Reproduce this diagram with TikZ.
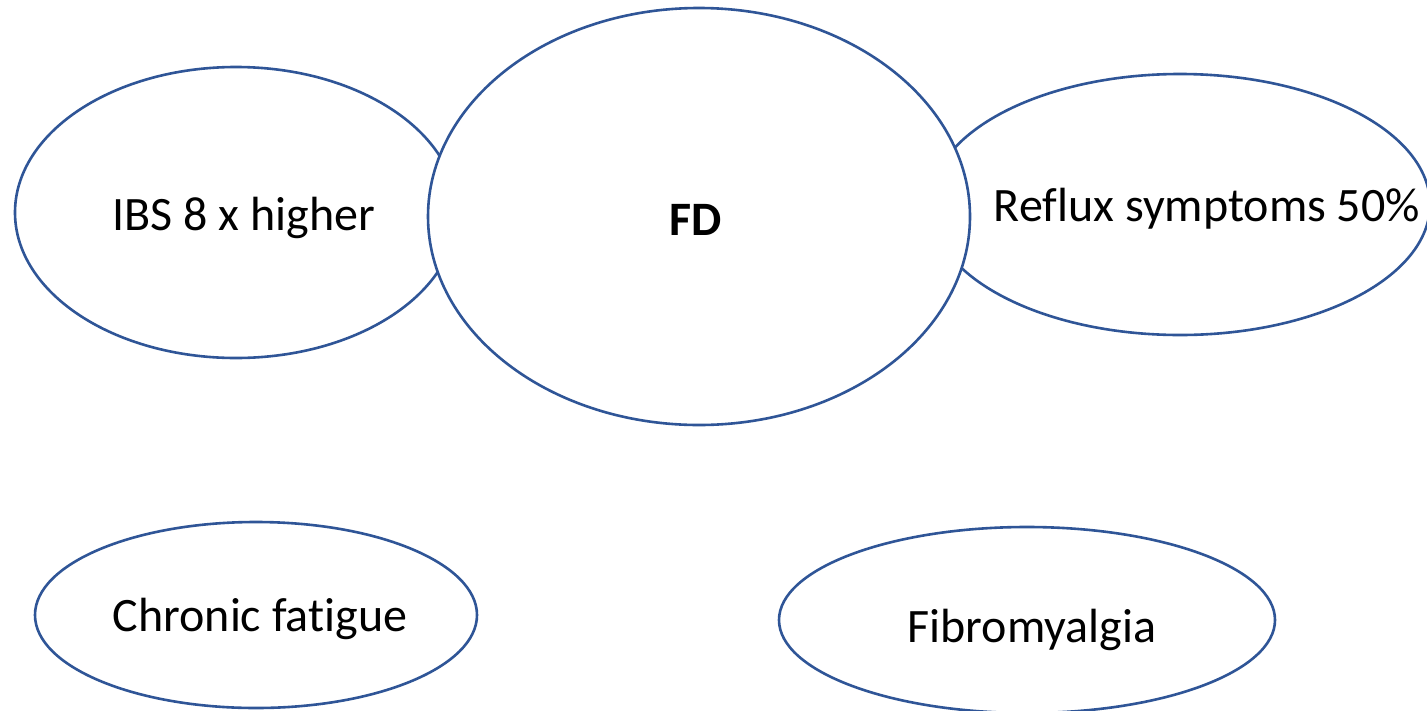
\documentclass[tikz,border=0pt]{standalone}
\usepackage{fontspec}
\setmainfont{Carlito}[Ligatures={NoCommon,NoRare,NoContextual}]
\usetikzlibrary{shapes.geometric}
\definecolor{edgeblue}{HTML}{2F5597}
\newcommand{\nolig}{\kern0pt\relax}
\begin{document}
\begin{tikzpicture}[x=1pt,y=-1pt,
  bubble/.style={ellipse, draw=edgeblue, line width=2.6pt, fill=white, inner sep=0pt, outer sep=0pt},
  lbl/.style={anchor=base, inner sep=0pt, font=\fontsize{48}{58}\selectfont, text=black}]
\useasboundingbox (0,0) rectangle (1427,710);
\fill[white] (0,0) rectangle (1427,710);
\node[bubble, minimum width=442pt, minimum height=291pt] (ibs) at (236,212.5) {};
\node[bubble, minimum width=500pt, minimum height=261pt] (reflux) at (1180,204.5) {};
\node[bubble, minimum width=542pt, minimum height=417pt] (fd) at (699,216.5) {};
\node[bubble, minimum width=442pt, minimum height=186pt] (chronic) at (256,615) {};
\node[bubble, minimum width=496pt, minimum height=186pt] (fibro) at (1027,620) {};
\node[lbl] (ibst) at (244,230) {IBS 8 x higher};
\node[lbl, font=\fontsize{48}{58}\selectfont\bfseries] (fdt) at (696,235) {FD};
\node[lbl] (reflt) at (1207,221) {Ref\nolig lux symptoms 50\%};
\node[lbl] (chront) at (260,631) {Chronic fat\nolig igue};
\node[lbl] (fibrot) at (1032,642) {Fibromyalgia};
\end{tikzpicture}
\end{document}
